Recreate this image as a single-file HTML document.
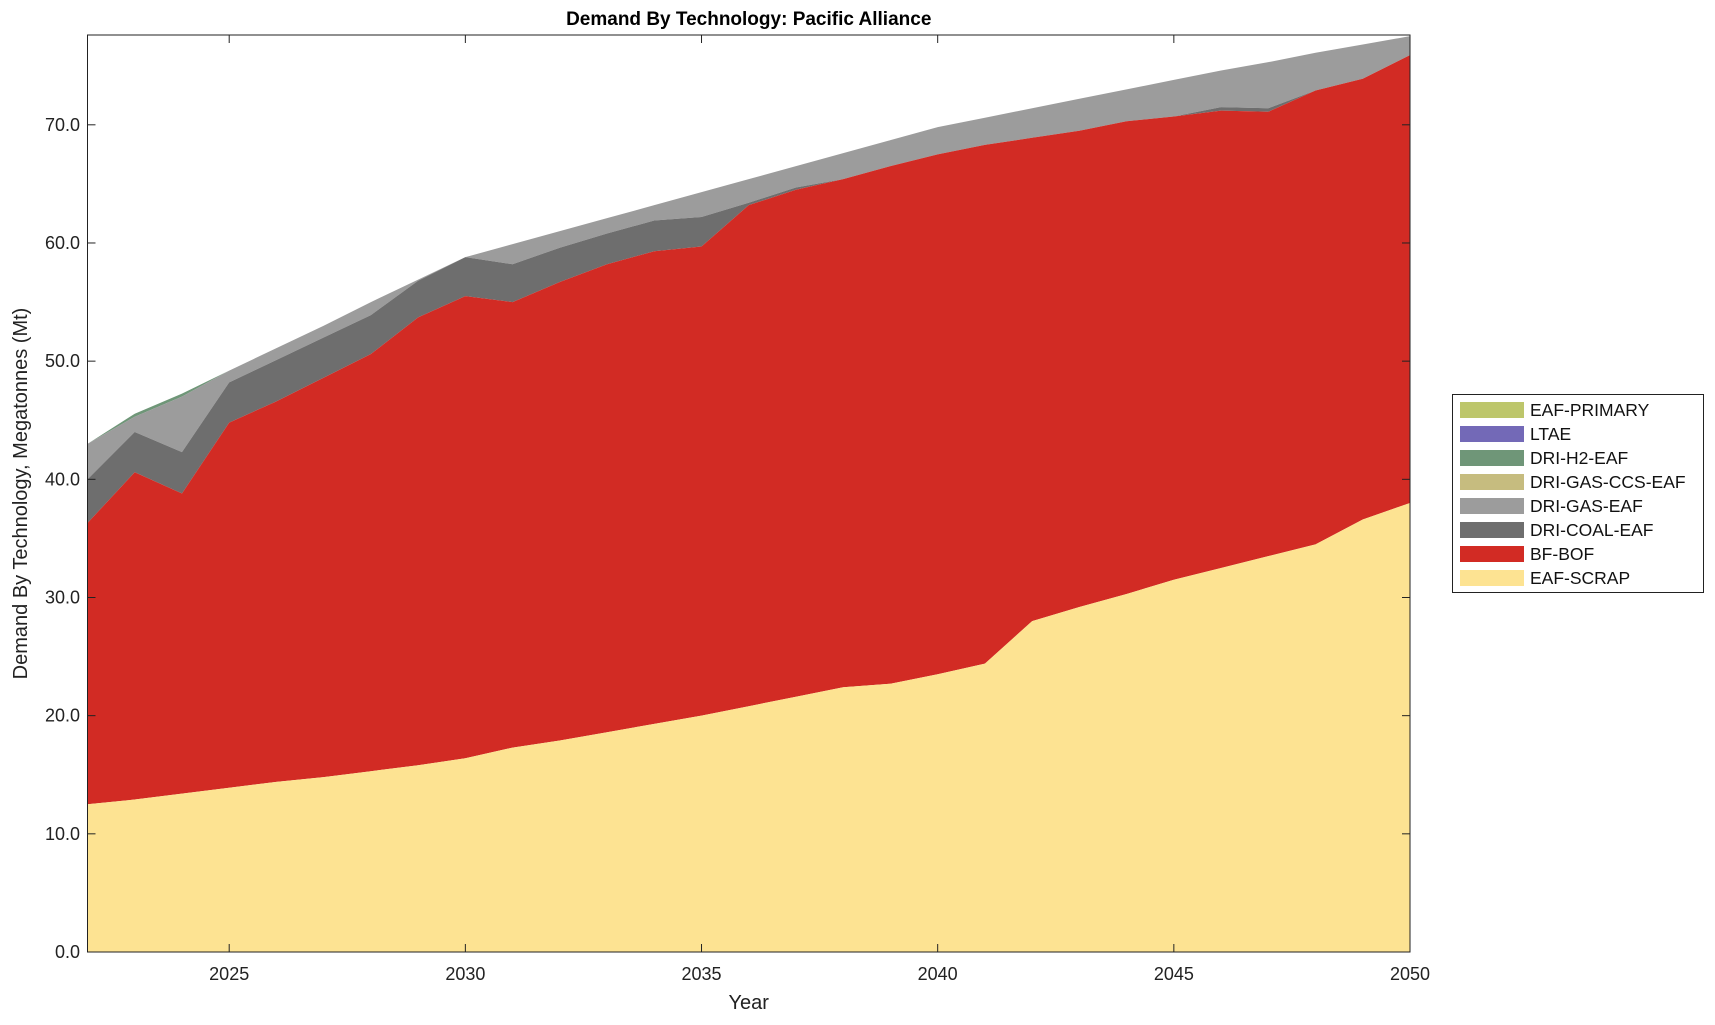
<!DOCTYPE html><html><head><meta charset="utf-8"><style>body{margin:0;background:#fff}svg text{font-family:"Liberation Sans",sans-serif}</style></head><body>
<svg id="s" width="1715" height="1020" xmlns="http://www.w3.org/2000/svg"></svg>
<script>
const L=87.5,R=1410,T=35,B=952,YMAX=77.6;
const X=y=>L+(y-2022)*(R-L)/28, Y=v=>B-v*(B-T)/YMAX;
const scrap=[12.5,12.9,13.4,13.9,14.4,14.8,15.3,15.8,16.4,17.3,17.9,18.6,19.3,20.0,20.8,21.6,22.4,22.7,23.5,24.4,28.0,29.2,30.3,31.5,32.5,33.5,34.5,36.6,38.0];
const bf=[36.3,40.6,38.8,44.8,46.6,48.6,50.6,53.7,55.5,55.0,56.7,58.2,59.3,59.7,63.2,64.5,65.4,66.5,67.5,68.3,68.9,69.5,70.3,70.7,71.2,71.1,72.9,73.9,75.9];
const coal=[40.0,44.0,42.3,48.2,50.1,52.0,53.9,56.8,58.8,58.2,59.6,60.8,61.9,62.2,63.4,64.7,65.4,66.5,67.5,68.3,68.9,69.5,70.3,70.7,71.5,71.4,72.9,73.9,75.9];
const tot=[43.0,45.3,47.0,49.2,51.1,53.0,55.0,56.9,58.8,59.9,61.0,62.1,63.2,64.3,65.4,66.5,67.6,68.7,69.8,70.6,71.4,72.2,73.0,73.8,74.6,75.3,76.1,76.8,77.5];
const h2=tot.map((v,i)=>i>=1&&i<=2?v+0.25:v);
let s='';
function area(top,bot,c){let d='M'+top.map((v,i)=>X(2022+i)+','+Y(v)).join('L');for(let i=bot.length-1;i>=0;i--)d+='L'+X(2022+i)+','+Y(bot[i]);s+=`<path d="${d}Z" fill="${c}"/>`;}
const zero=scrap.map(()=>0);
area(h2,tot,'#6f9678');area(tot,coal,'#9c9c9c');area(coal,bf,'#6e6e6e');area(bf,scrap,'#d22b24');area(scrap,zero,'#fde392');
s+=`<rect x="${L}" y="${T}" width="${R-L}" height="${B-T}" fill="none" stroke="#222" stroke-width="1"/>`;
for(let v=0;v<=70;v+=10){let y=Y(v);s+=`<line x1="${L}" x2="${L+8}" y1="${y}" y2="${y}" stroke="#222"/><line x1="${R}" x2="${R-8}" y1="${y}" y2="${y}" stroke="#222"/><text x="80" y="${y+6}" font-size="18" text-anchor="end" fill="#222">${v.toFixed(1)}</text>`;}
for(let yr=2025;yr<=2050;yr+=5){let x=X(yr);s+=`<line x1="${x}" x2="${x}" y1="${B}" y2="${B-8}" stroke="#222"/><line x1="${x}" x2="${x}" y1="${T}" y2="${T+8}" stroke="#222"/><text x="${x}" y="980" font-size="18" text-anchor="middle" fill="#222">${yr}</text>`;}
s+=`<text x="${(L+R)/2}" y="1009" font-size="20" text-anchor="middle" fill="#222">Year</text>`;
s+=`<text transform="translate(27,${(T+B)/2}) rotate(-90)" font-size="20" text-anchor="middle" fill="#222">Demand By Technology, Megatonnes (Mt)</text>`;
s+=`<text x="${(L+R)/2}" y="25" font-size="19" font-weight="bold" text-anchor="middle">Demand By Technology: Pacific Alliance</text>`;
s+=`<rect x="1452.5" y="394.5" width="251" height="198" fill="#fff" stroke="#222"/>`;
const lg=[['EAF-PRIMARY','#bdc66b'],['LTAE','#7369b7'],['DRI-H2-EAF','#6f9678'],['DRI-GAS-CCS-EAF','#c6bc7f'],['DRI-GAS-EAF','#9c9c9c'],['DRI-COAL-EAF','#6e6e6e'],['BF-BOF','#d22b24'],['EAF-SCRAP','#fde392']];
lg.forEach((e,i)=>{let cy=410+i*24;s+=`<rect x="1460" y="${cy-8}" width="64" height="16" fill="${e[1]}"/><text x="1530" y="${cy+6}" font-size="17.5" fill="#111">${e[0]}</text>`;});
document.getElementById('s').innerHTML=s;
</script></body></html>
